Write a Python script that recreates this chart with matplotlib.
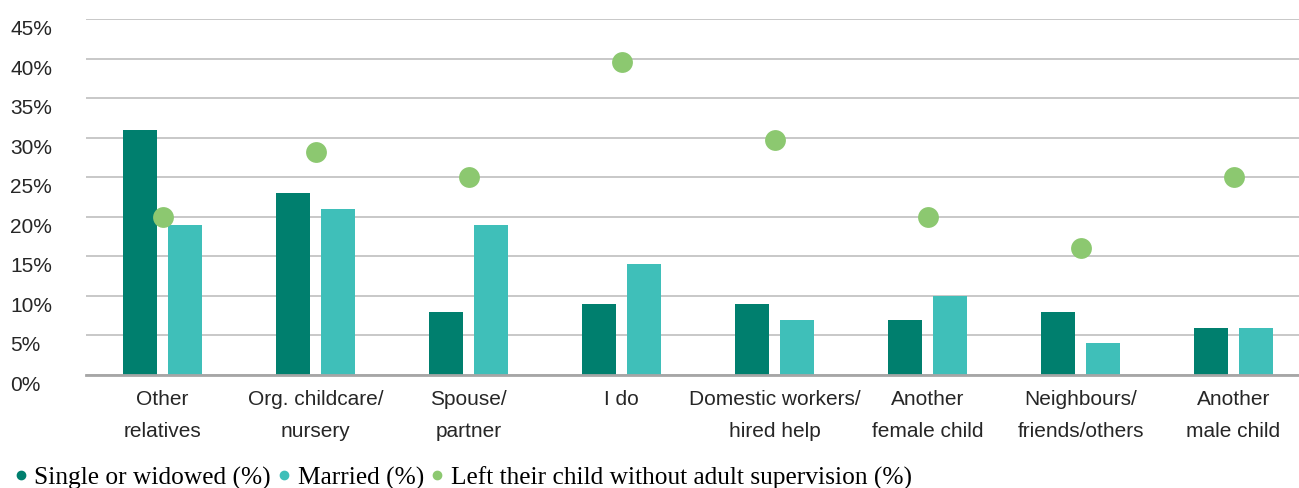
import numpy as np
import matplotlib
matplotlib.use("Agg")
from matplotlib import pyplot as plt
from matplotlib.lines import Line2D

# data
categories = ["Other\nrelatives", "Org. childcare/\nnursery", "Spouse/\npartner", "I do",
              "Domestic workers/\nhired help", "Another\nfemale child", "Neighbours/\nfriends/others",
              "Another\nmale child"]
single = [31, 23, 8, 9, 9, 7, 8, 6]
married = [19, 21, 19, 14, 7, 10, 4, 6]
no_supervision = [20, 28.2, 25, 39.6, 29.7, 20, 16, 25]
yticks = [0, 5, 10, 15, 20, 25, 30, 35, 40, 45]

c_single = "#007f6e"
c_married = "#3fbfb9"
c_dot = "#8cc870"

sans = ["Liberation Sans Narrow", "Liberation Sans", "DejaVu Sans"]
serif = ["Liberation Serif", "DejaVu Serif"]

fig = plt.figure(figsize=(12.99, 4.89), dpi=100)
ax = fig.add_axes([86 / 1299, 113 / 489, 1224 / 1299, 356 / 489])

x = np.arange(len(categories))
w = 0.222
off = 0.144
ax.bar(x - off, single, width=w, color=c_single, zorder=3)
ax.bar(x + off, married, width=w, color=c_married, zorder=3)
ax.plot(x, no_supervision, "o", color=c_dot, markersize=15, markeredgewidth=0, zorder=4)

ax.set_xlim(-0.5, len(categories) - 0.5)
ax.set_ylim(0, 45)
ax.set_yticks(yticks)
ax.set_yticklabels([f"{v}%" for v in yticks], family=sans, fontsize=15, color="#262626")
ax.set_xticks(x)
ax.set_xticklabels(categories, family=sans, fontsize=15, color="#262626", linespacing=1.85)
ax.tick_params(axis="both", length=0)
ax.tick_params(axis="y", pad=54.5)
ax.tick_params(axis="x", pad=10)
for lbl in ax.get_yticklabels():
    lbl.set_horizontalalignment("left")
    lbl.set_verticalalignment("top")

ax.grid(axis="y", color="#bfbfbf", linewidth=1.2, zorder=0)
for s in ["top", "right", "left"]:
    ax.spines[s].set_visible(False)
ax.spines["bottom"].set_color("#a6a6a6")
ax.spines["bottom"].set_linewidth(2)
ax.spines["bottom"].set_zorder(5)

handles = [
    Line2D([], [], marker="o", linestyle="", color=c_single, markersize=6),
    Line2D([], [], marker="o", linestyle="", color=c_married, markersize=6),
    Line2D([], [], marker="o", linestyle="", color=c_dot, markersize=6),
]
labels = ["Single or widowed (%)", "Married (%)", "Left their child without adult supervision (%)"]
fig.legend(handles, labels, loc="lower left", bbox_to_anchor=(0.0, -0.033), ncol=3, frameon=False,
           prop={"family": serif, "size": 18.3}, handlelength=0.45, handletextpad=0.3,
           columnspacing=0.3, borderaxespad=0.2)

fig.savefig("out.png", dpi=100)
